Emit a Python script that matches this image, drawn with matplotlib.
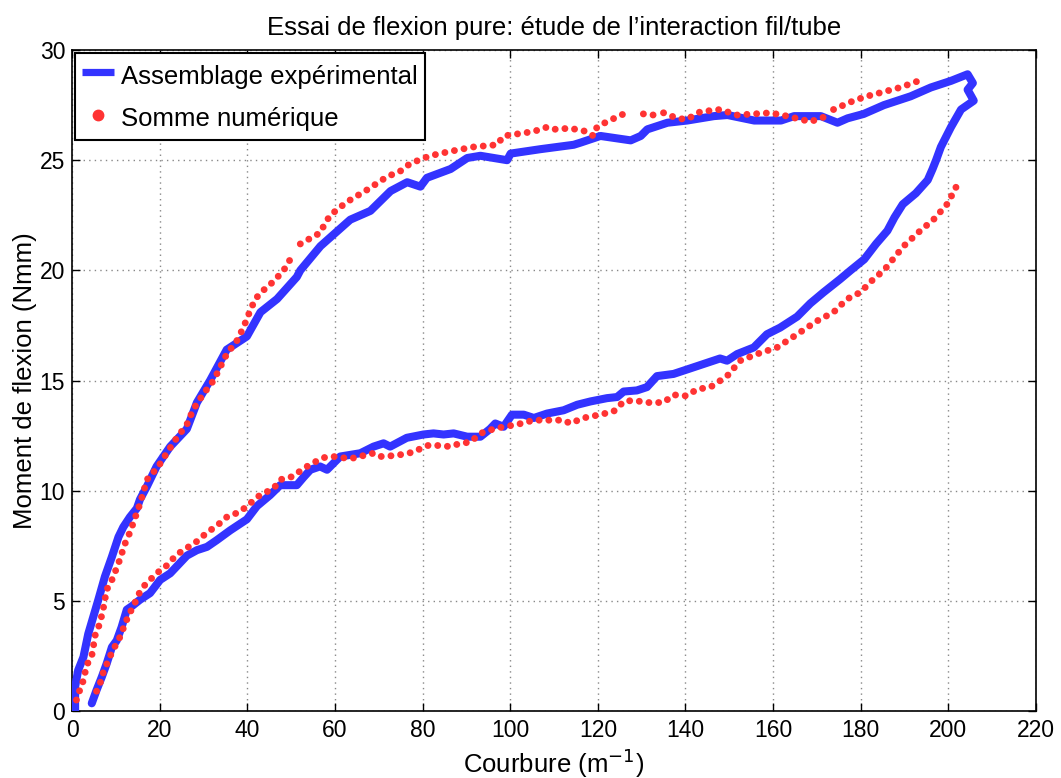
import numpy as np
import matplotlib
matplotlib.use("Agg")
import matplotlib.pyplot as plt
from matplotlib.lines import Line2D

plt.rcParams['font.family'] = ['Liberation Sans', 'DejaVu Sans']

# Experimental assembly: loading branch, turn-around, unloading branch
exp_x = [0.7, 0.7, 1.4, 2.6, 3.7, 4.9, 6.0, 7.5, 9.1, 10.6, 11.7, 13.2, 14.8, 15.5,
         17.1, 19.3, 22.4, 26.2, 28.5, 31.5, 35.3, 39.9, 43.0, 46.8, 51.3, 52.1,
         56.7, 63.5, 68.1, 72.7, 76.5, 79.5, 81.0, 86.4, 90.2, 93.2, 99.3, 100.1,
         106.9, 114.5, 116.1, 120.6, 127.5, 129.8, 131.3, 135.9, 140.4, 146.5,
         149.6, 155.7, 161.8, 164.8, 170.9, 174.7, 177.0, 180.7, 185.3, 191.4,
         196.0, 200.6, 204.4, 205.6, 204.4, 205.8,
         202.9, 200.6, 198.3, 197.2, 196.4, 195.3, 192.6, 189.6, 187.7, 186.1,
         183.5, 180.8, 177.7, 175.3, 171.5, 168.5, 165.5, 161.6, 158.6, 155.6,
         151.8, 149.5, 147.9, 144.9, 141.1, 137.3, 133.5, 131.2, 128.9, 125.9,
         124.4, 122.1, 118.3, 115.3, 112.2, 108.4, 105.4, 103.1, 100.4, 98.5,
         96.6, 95.4, 93.2, 90.2, 87.1, 84.8, 82.5, 80.2, 76.4, 72.6, 71.1, 68.8,
         65.8, 61.2, 58.2, 56.6, 54.4, 52.8, 51.3, 47.5, 45.2, 42.2, 39.9, 36.1,
         33.0, 30.8, 28.5, 26.2, 22.4, 20.1, 17.8, 15.5, 13.6, 12.5, 11.3, 10.2,
         9.1, 7.9, 6.8, 5.6, 4.5]
exp_y = [0.0, 1.1, 1.85, 2.45, 3.5, 4.3, 5.05, 6.1, 7.0, 7.9, 8.35, 8.8, 9.2, 9.6,
         10.2, 11.1, 12.0, 12.8, 14.0, 15.0, 16.4, 17.0, 18.1, 18.7, 19.7, 20.0,
         21.1, 22.3, 22.7, 23.6, 24.0, 23.8, 24.2, 24.6, 25.1, 25.2, 25.0, 25.3,
         25.5, 25.7, 25.8, 26.1, 25.9, 26.1, 26.4, 26.7, 26.8, 27.0,
         27.05, 26.8, 26.8, 27.0, 27.0, 26.7, 26.9, 27.1, 27.5, 27.9,
         28.3, 28.6, 28.9, 28.5, 28.2, 27.7,
         27.3, 26.5, 25.6, 25.0, 24.6, 24.1, 23.5, 23.0, 22.4, 21.8,
         21.2, 20.5, 20.0, 19.6, 19.0, 18.5, 17.9, 17.4, 17.1, 16.5,
         16.2, 15.9, 16.0, 15.8, 15.55, 15.3, 15.2, 14.7, 14.55, 14.5,
         14.25, 14.2, 14.05, 13.9, 13.65, 13.5, 13.3, 13.45, 13.45, 12.9,
         13.05, 12.8, 12.45, 12.45, 12.6, 12.55, 12.6, 12.55, 12.4, 12.0, 12.15, 12.0,
         11.7, 11.55, 10.95, 11.1, 10.95, 10.6, 10.25, 10.25, 9.8, 9.3, 8.7, 8.2,
         7.75, 7.45, 7.3, 7.05, 6.25, 5.95, 5.35, 5.05, 4.75, 4.6, 3.8, 3.2,
         2.9, 2.15, 1.55, 0.95, 0.35]

# Numerical sum: loading branch (NaN marks breaks in the series)
num_up_x = [1.0, 1.4, 2.2, 3.4, 4.5, 5.3, 6.2, 7.0, 7.9, 9.1, 10.6, 12.1, 13.2, 14.8,
            15.5, 17.1, 19.7, 21.6, 23.9, 26.2, 27.7, 30.0, 32.3, 35.3, 37.6, 39.1,
            40.3, 41.8, 43.7, 46.0, 48.3, 49.8, np.nan,
            52.1, 56.6, 57.4, 58.9, 62.7, 67.3, 71.9, 74.9, 77.2, 81.7, 86.3, 91.6,
            97.0, 98.5, 105.3, 108.4, 109.9, 113.7, 117.5, 119.0, 119.8, 122.1,
            125.9, np.nan, 130.4, 132.7, np.nan, 135.0, 138.1, 140.3, 143.4, 147.9,
            151.8, 155.6, 159.4, 163.2, 168.5, 172.3, np.nan, 173.8, 178.4, 181.4,
            185.2, 189.0, 193.2]
num_up_y = [0.5, 0.8, 1.1, 2.1, 2.5, 3.45, 3.9, 4.5, 5.5, 5.95, 6.7, 7.6, 8.1, 9.0,
            9.4, 10.5, 11.1, 11.7, 12.4, 13.0, 13.7, 14.4, 15.0, 16.2, 16.8, 17.4,
            18.0, 18.7, 19.1, 19.5, 20.0, 20.5, np.nan,
            21.2, 21.7, 22.0, 22.5, 23.1, 23.65, 24.25, 24.5, 24.85, 25.2, 25.4, 25.6,
            25.7, 26.1, 26.3, 26.5, 26.4, 26.45, 26.3, 26.1, 26.5, 26.75,
            27.1, np.nan, 27.1, 27.05, np.nan, 27.15, 26.9, 26.85, 27.2, 27.3,
            27.05, 27.1, 27.15, 27.0, 26.75, 27.0, np.nan, 27.3, 27.7, 27.9,
            28.1, 28.3, 28.6]

# Numerical sum: unloading branch
num_dn_x = [5.6, 6.4, 7.2, 8.3, 9.4, 10.6, 11.7, 12.9, 14.0, 15.2, 16.3, 17.8, 19.3,
            21.6, 23.9, 26.2, 28.5, 30.8, 33.0, 35.3, 38.4, 39.9, 42.9, 46.0, 47.5,
            50.5, 52.1, 54.4, 57.4, 59.7, 63.5, 68.8, 70.3, 74.1, 77.9, 81.0, 84.0,
            86.3, 88.6, 90.9, 93.2, 96.2, 98.5, 101.5, 105.4, 109.1, 112.2, 113.7,
            116.7, 120.5, 123.6, 124.7, 125.9, 128.2, 131.2, 135.0, 137.3, 140.3,
            142.6, 145.7, 149.5, 152.5, 156.3, 160.9, 165.5, 170.0, 173.8, 176.9,
            179.9, 182.9, 185.3, 189.8, 193.6, 196.6, 199.7, 201.6, 202.1]
num_dn_y = [0.9, 1.25, 1.8, 2.3, 2.8, 3.2, 3.75, 4.35, 4.75, 5.3, 5.65, 5.95, 6.25,
            6.6, 7.1, 7.4, 7.7, 8.1, 8.4, 8.8, 9.05, 9.3, 9.8, 10.1, 10.5,
            10.65, 10.9, 11.2, 11.5, 11.55, 11.45, 11.7, 11.55, 11.6, 11.75, 12.05, 12.05,
            12.0, 12.15, 12.2, 12.6, 12.8, 12.9, 13.0, 13.2, 13.2, 13.2, 13.05,
            13.3, 13.45, 13.6, 13.8, 14.05, 14.1, 14.0, 14.0, 14.35, 14.3,
            14.6, 14.7, 15.2, 15.9, 16.2, 16.5, 17.1, 17.7, 18.1, 18.7,
            19.0, 19.6, 20.0, 21.1, 21.8, 22.3, 23.0, 23.7, 23.95]

x_ticks = list(range(0, 221, 20))
y_ticks = list(range(0, 31, 5))

BLUE = '#3333ff'
RED = '#ff3333'

fig = plt.figure(figsize=(10.61, 7.78), dpi=100)
ax = fig.add_axes([0.0679, 0.0861, 0.9085, 0.8496])

ax.plot(exp_x, exp_y, color=BLUE, lw=5.8, solid_capstyle='round',
        solid_joinstyle='round', zorder=3)
dot_style = dict(color=RED, lw=5.0, linestyle=(0, (0.001, 1.4)),
                 dash_capstyle='round', zorder=4)
ax.plot(num_up_x, num_up_y, **dot_style)
ax.plot(num_dn_x, num_dn_y, **dot_style)

ax.set_xlim(0, 220)
ax.set_ylim(0, 30)
ax.set_xticks(x_ticks)
ax.set_yticks(y_ticks)
ax.tick_params(direction='in', top=True, right=True, length=6, width=1,
               labelsize=16.5)
ax.tick_params(axis='x', pad=6)
ax.tick_params(axis='y', pad=5)
ax.grid(True, linestyle=(0, (1, 3)), color='#888888', lw=1.0)
for s in ax.spines.values():
    s.set_linewidth(1.2)

ax.set_title("Essai de flexion pure: étude de l\u2019interaction fil/tube",
             fontsize=18.5, pad=11)
ax.set_xlabel("Courbure (m$^{-1}$)", fontsize=18.5, labelpad=3)
ax.set_ylabel("Moment de flexion (Nmm)", fontsize=18.5, labelpad=2)

handles = [Line2D([], [], color=BLUE, lw=5.2, solid_capstyle='butt'),
           Line2D([], [], color=RED, lw=0, marker='o', markersize=7.5)]
leg = ax.legend(handles, ["Assemblage expérimental", "Somme numérique"],
                loc='upper left', fontsize=18.5, fancybox=False, framealpha=1,
                edgecolor='black', borderaxespad=0.1, handlelength=1.25,
                handleheight=1.4, handletextpad=0.25, labelspacing=0.5,
                borderpad=0.3)
leg.get_frame().set_linewidth(1.5)
leg.set_zorder(10)

fig.savefig("out.png", dpi=100)
